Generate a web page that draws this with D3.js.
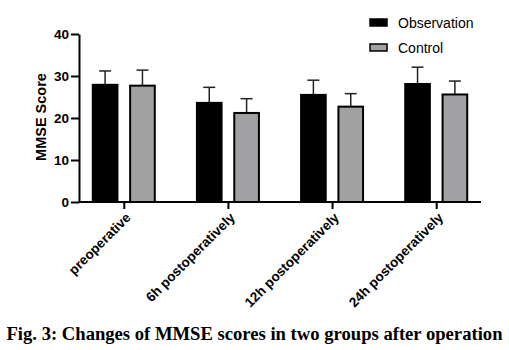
<!DOCTYPE html>
<html>
<head>
<meta charset="utf-8">
<script src="https://cdn.jsdelivr.net/npm/d3@7"></script>
<style>
  body { margin: 0; background: #fff; }
  .axis path, .axis line { stroke: #000; stroke-width: 2; }
  .axis text { font-family: "Liberation Sans", Arial, sans-serif; font-weight: bold; font-size: 13.5px; fill: #000; }
</style>
</head>
<body>
<div id="chart"></div>
<script>
var categories = ["preoperative", "6h postoperatively", "12h postoperatively", "24h postoperatively"];
var seriesNames = ["Observation", "Control"];
var observation = [27.9, 23.6, 25.5, 28.1];
var observationSD = [3.3, 3.7, 3.5, 4.0];
var control = [27.7, 21.2, 22.7, 25.6];
var controlSD = [3.7, 3.4, 3.1, 3.2];
var yTicks = [0, 10, 20, 30, 40];
var caption = "Fig. 3: Changes of MMSE scores in two groups after operation";

var colors = {Observation: "#000000", Control: "#a1a1a4"};

var width = 509, height = 350;
var x0 = 79, x1 = 481, yTop = 34, yBottom = 202;

var svg = d3.select("#chart").append("svg")
  .attr("width", width).attr("height", height);

var y = d3.scaleLinear().domain([0, 40]).range([yBottom, yTop]);

var x = d3.scalePoint().domain(categories).range([x0, x1]).padding(0.43);

var inner = d3.scaleBand().domain(seriesNames).range([-31, 31]).paddingInner(0.34);

var data = categories.map(function(c, i) {
  return [
    {cat: c, name: "Observation", v: observation[i], sd: observationSD[i]},
    {cat: c, name: "Control", v: control[i], sd: controlSD[i]}
  ];
});

var groups = svg.append("g").selectAll("g")
  .data(data).enter().append("g")
  .attr("transform", function(d, i) { return "translate(" + x(categories[i]) + ",0)"; });

// error bars (upper only)
groups.selectAll("g.err").data(function(d) { return d; }).enter()
  .append("g").attr("class", "err")
  .each(function(d) {
    var g = d3.select(this);
    var cx = inner(d.name) + inner.bandwidth() / 2;
    g.append("line").attr("x1", cx).attr("x2", cx)
      .attr("y1", y(d.v)).attr("y2", y(d.v + d.sd))
      .attr("stroke", "#222").attr("stroke-width", 1.5);
    g.append("line").attr("x1", cx - 6).attr("x2", cx + 6)
      .attr("y1", y(d.v + d.sd)).attr("y2", y(d.v + d.sd))
      .attr("stroke", "#222").attr("stroke-width", 1.5);
  });

groups.selectAll("rect").data(function(d) { return d; }).enter()
  .append("rect")
  .attr("x", function(d) { return inner(d.name); })
  .attr("width", inner.bandwidth())
  .attr("y", function(d) { return y(d.v); })
  .attr("height", function(d) { return y(0) - y(d.v); })
  .attr("fill", function(d) { return colors[d.name]; })
  .attr("stroke", "#000").attr("stroke-width", 2);

// y axis
svg.append("g").attr("class", "axis")
  .attr("transform", "translate(" + x0 + ",0)")
  .call(d3.axisLeft(y).tickValues(yTicks).tickSize(8).tickSizeOuter(0).tickPadding(2));

// x axis
var xAxisG = svg.append("g").attr("class", "axis")
  .attr("transform", "translate(0," + yBottom + ")")
  .call(d3.axisBottom(x).tickSize(7).tickSizeOuter(0));
xAxisG.select(".domain").attr("d", "M" + x0 + ",0H" + x1);
xAxisG.selectAll("text")
  .attr("text-anchor", "end")
  .attr("dy", "0.35em")
  .attr("transform", "translate(4,13) rotate(-45)")
  .attr("x", 0).attr("y", 0);

// y axis title
svg.append("text")
  .attr("transform", "translate(46,117) rotate(-90)")
  .attr("text-anchor", "middle")
  .style("font-family", "Liberation Sans, Arial, sans-serif")
  .style("font-weight", "bold").style("font-size", "14.5px")
  .text("MMSE Score");

// legend
var legend = svg.append("g").selectAll("g").data(seriesNames).enter().append("g")
  .attr("transform", function(d, i) { return "translate(370," + (19 + i * 25) + ")"; });
legend.append("rect")
  .attr("x", 0).attr("y", 0).attr("width", 17).attr("height", 7)
  .attr("fill", function(d) { return colors[d]; })
  .attr("stroke", "#000").attr("stroke-width", 1.5);
legend.append("text")
  .attr("x", 28).attr("y", 9)
  .style("font-family", "Liberation Sans, Arial, sans-serif")
  .style("font-size", "14px")
  .text(function(d) { return d; });

// caption
svg.append("text")
  .attr("x", width / 2).attr("y", 340)
  .attr("text-anchor", "middle")
  .attr("textLength", 496)
  .attr("lengthAdjust", "spacingAndGlyphs")
  .style("font-family", "Liberation Serif, Times New Roman, serif")
  .style("font-weight", "bold").style("font-size", "18.5px")
  .text(caption);
</script>
</body>
</html>
